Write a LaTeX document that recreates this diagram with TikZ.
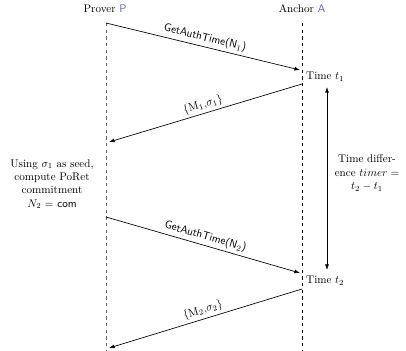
\documentclass[tikz,border=0pt]{standalone}
\usetikzlibrary{arrows.meta}
\definecolor{actor}{RGB}{95,95,185}
\begin{document}
\begin{tikzpicture}[x=0.9pt,y=-0.9pt,
  msg/.style={semithick,-{Latex[length=5pt,width=3.5pt]}},
  lblsf/.style={font=\sffamily,midway,above,sloped,inner sep=2.5pt},
  lbl/.style={midway,above,sloped,inner sep=2.5pt},
  lifeP/.style={dashed,gray!80!black,semithick},
  lifeA/.style={dashed,black,semithick}]
\useasboundingbox (0,0) rectangle (406,350);
\node (P) at (105,9) {Prover \textcolor{actor}{\textsf{P}}};
\node (A) at (302,9) {Anchor \textcolor{actor}{\textsf{A}}};
\coordinate (Ptop) at (106,23);
\coordinate (Pbot) at (106,350);
\coordinate (Atop) at (302,23);
\coordinate (Abot) at (302,350);
\draw[lifeP] (Ptop) -- (Pbot);
\draw[lifeA] (Atop) -- (Abot);
% messages
\coordinate (m1s) at (106,23);
\coordinate (m1e) at (300,70);
\coordinate (m2s) at (302,84);
\coordinate (m2e) at (109,142);
\coordinate (m3s) at (106,217);
\coordinate (m3e) at (300,273);
\coordinate (m4s) at (302,289);
\coordinate (m4e) at (109,348);
\draw[msg] (m1s) -- node[lblsf] {GetAuthTime(N$_1$)} (m1e);
\draw[msg] (m2s) -- node[lbl] {$\{\mathrm{M}_1$,$\sigma_1\}$} (m2e);
\draw[msg] (m3s) -- node[lblsf] {GetAuthTime(N$_2$)} (m3e);
\draw[msg] (m4s) -- node[lbl] {$\{\mathrm{M}_2$,$\sigma_2\}$} (m4e);
\node[anchor=west,inner sep=0pt] (t1) at (306,77) {Time $t_1$};
\node[anchor=west,inner sep=0pt] (t2) at (306,281) {Time $t_2$};
\coordinate (d1) at (327,87);
\coordinate (d2) at (327,270);
\draw[semithick,{Latex[length=5pt,width=3.5pt]}-{Latex[length=5pt,width=3.5pt]}] (d1) -- (d2);
\node[align=center,inner sep=0pt] (calc) at (52,184) {Using $\sigma_1$ as seed,\\compute PoRet\\commitment\\$N_2$ = \textsf{com}};
\node[align=center,inner sep=0pt] (diff) at (367,173) {Time differ-\\ence $timer=$\\$t_2-t_1$};
\end{tikzpicture}
\end{document}
